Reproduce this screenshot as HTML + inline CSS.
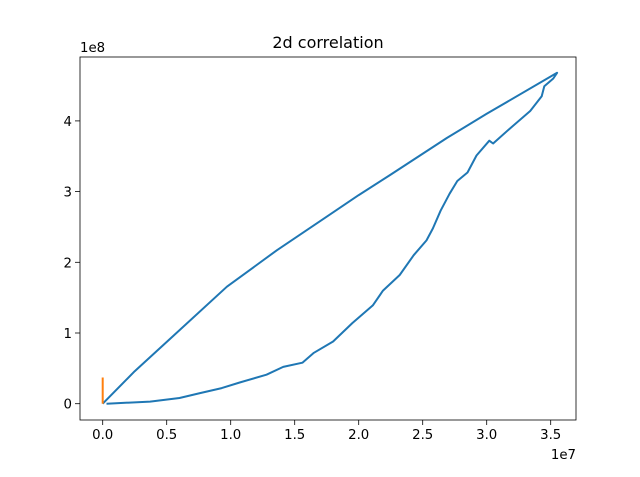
<!DOCTYPE html>
<html><head><meta charset="utf-8"><style>
body{margin:0;background:#fff}
svg text{font-family:"DejaVu Sans","Liberation Sans",sans-serif;fill:#000}
</style></head><body>
<svg id="c" width="640" height="472" xmlns="http://www.w3.org/2000/svg">
<rect width="640" height="472" fill="#fff"/>
</svg>
<script>
const xTicks=[0,0.5,1.0,1.5,2.0,2.5,3.0,3.5];
const xTickLabels=["0.0","0.5","1.0","1.5","2.0","2.5","3.0","3.5"];
const yTicks=[0,1,2,3,4];
const yTickLabels=["0","1","2","3","4"];
const lowerX=[0.03,0.37,0.6,0.76,0.93,1.07,1.28,1.41,1.56,1.65,1.8,1.95,2.11,2.19,2.32,2.43,2.53,2.58,2.64,2.71,2.77,2.85,2.92,3.02,3.05,3.18,3.34,3.43,3.45,3.52,3.55];
const lowerY=[0,0.03,0.08,0.15,0.22,0.3,0.41,0.52,0.58,0.72,0.88,1.14,1.39,1.6,1.82,2.1,2.31,2.48,2.73,2.97,3.15,3.27,3.51,3.72,3.68,3.89,4.14,4.35,4.49,4.6,4.68];
const upperX=[3.55,3.0,2.69,2.245,2.0,1.75,1.36,0.97,0.525,0.25,0.0];
const upperY=[4.68,4.1,3.76,3.235,2.95,2.645,2.17,1.655,0.915,0.46,0.0];
const orangeX=[0,0];
const orangeY=[0,0.37];
const svg=document.getElementById('c');const NS="http://www.w3.org/2000/svg";
const L=80,R=576,T=57,B=420;
const sx=v=>102.7+v*128, sy=v=>403.7-v*70.7;
function mk(t,a,p){const e=document.createElementNS(NS,t);for(const k in a)e.setAttribute(k,a[k]);(p||svg).appendChild(e);return e;}
function line(xs,ys,c,name){const d=xs.map((x,i)=>(i?'L':'M')+sx(x).toFixed(1)+','+sy(ys[i]).toFixed(1)).join('');
const p=mk('path',{d:d,fill:'none',stroke:c,'stroke-width':2,'stroke-linejoin':'round'});

}
line(lowerX.concat(upperX),lowerY.concat(upperY),'#1f77b4','series-blue');
line(orangeX,orangeY,'#ff7f0e','series-orange');
const fr=mk('rect',{x:L,y:T,width:R-L,height:B-T,fill:'none',stroke:'#000','stroke-width':0.8});


xTicks.forEach((v,i)=>{const x=sx(v);mk('line',{x1:x,x2:x,y1:B,y2:B+5,stroke:'#000','stroke-width':0.8});
const t=mk('text',{x:x,y:B+19,'font-size':13.3,'text-anchor':'middle'});t.textContent=xTickLabels[i];

});
yTicks.forEach((v,i)=>{const y=sy(v);mk('line',{x1:L-5,x2:L,y1:y,y2:y,stroke:'#000','stroke-width':0.8});
const t=mk('text',{x:L-8,y:y+5,'font-size':13.3,'text-anchor':'end'});t.textContent=yTickLabels[i];

});
let t=mk('text',{x:80,y:52,'font-size':13.3});t.textContent='1e8';


t=mk('text',{x:576,y:459,'font-size':13.3,'text-anchor':'end'});t.textContent='1e7';


t=mk('text',{x:328,y:48,'font-size':16,'text-anchor':'middle'});t.textContent='2d correlation';


</script>
</body></html>
